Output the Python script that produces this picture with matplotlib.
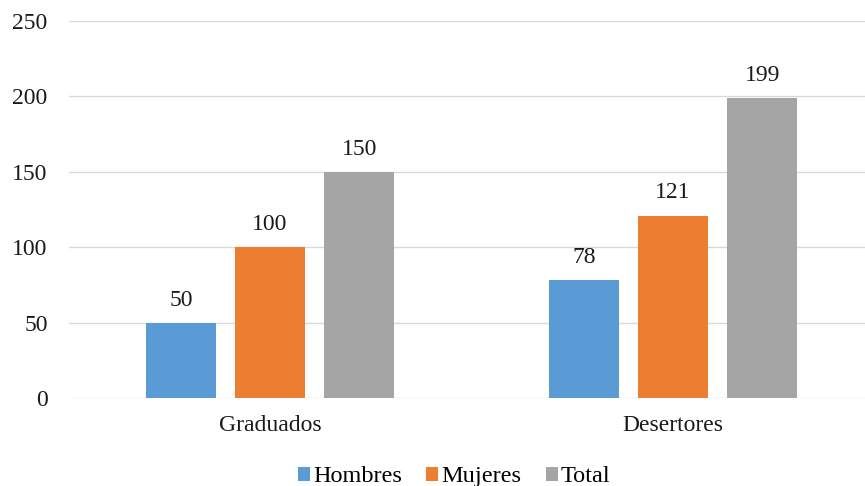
import numpy as np
import matplotlib
matplotlib.use("Agg")
import matplotlib.pyplot as plt

categorias = ["Graduados", "Desertores"]
hombres = [50, 78]
mujeres = [100, 121]
total = [150, 199]

series = ["Hombres", "Mujeres", "Total"]
colores = ["#5B9BD5", "#ED7D31", "#A5A5A5"]

plt.rcParams['font.family'] = ['Liberation Serif', 'DejaVu Serif']

fig = plt.figure(figsize=(8.65, 4.86), dpi=100)
ax = fig.add_axes([68.5 / 865, 88 / 486, 1 - 68.5 / 865, 377 / 486])

x = np.arange(len(categorias))
ancho = 0.174
desplaz = 0.221
for i, (vals, nombre, col) in enumerate(zip([hombres, mujeres, total], series, colores)):
    barras = ax.bar(x + (i - 1) * desplaz, vals, ancho, color=col, label=nombre, zorder=3)
    for b, v in zip(barras, vals):
        ax.text(b.get_x() + b.get_width() / 2, v + 8, str(v), ha='center', va='bottom',
                fontsize=17, color='#1a1a1a')

ax.set_xlim(-0.5, 1.476)
ax.set_ylim(0, 250)
ax.set_yticks(range(0, 251, 50))
ax.set_xticks(x)
ax.set_xticklabels(categorias)
ax.grid(axis='y', color='#d9d9d9', linewidth=1, zorder=0)
for s in ax.spines.values():
    s.set_visible(False)
ax.tick_params(axis='both', length=0, labelsize=17, colors='#1a1a1a')
ax.tick_params(axis='y', pad=15)
ax.tick_params(axis='x', pad=12)

fig.legend(loc='lower center', bbox_to_anchor=(0.525, -0.048), ncol=3, frameon=False,
           fontsize=17.5, handlelength=0.5, handleheight=0.5, handletextpad=0.12,
           columnspacing=1.0)

fig.savefig("out.png", dpi=100)
